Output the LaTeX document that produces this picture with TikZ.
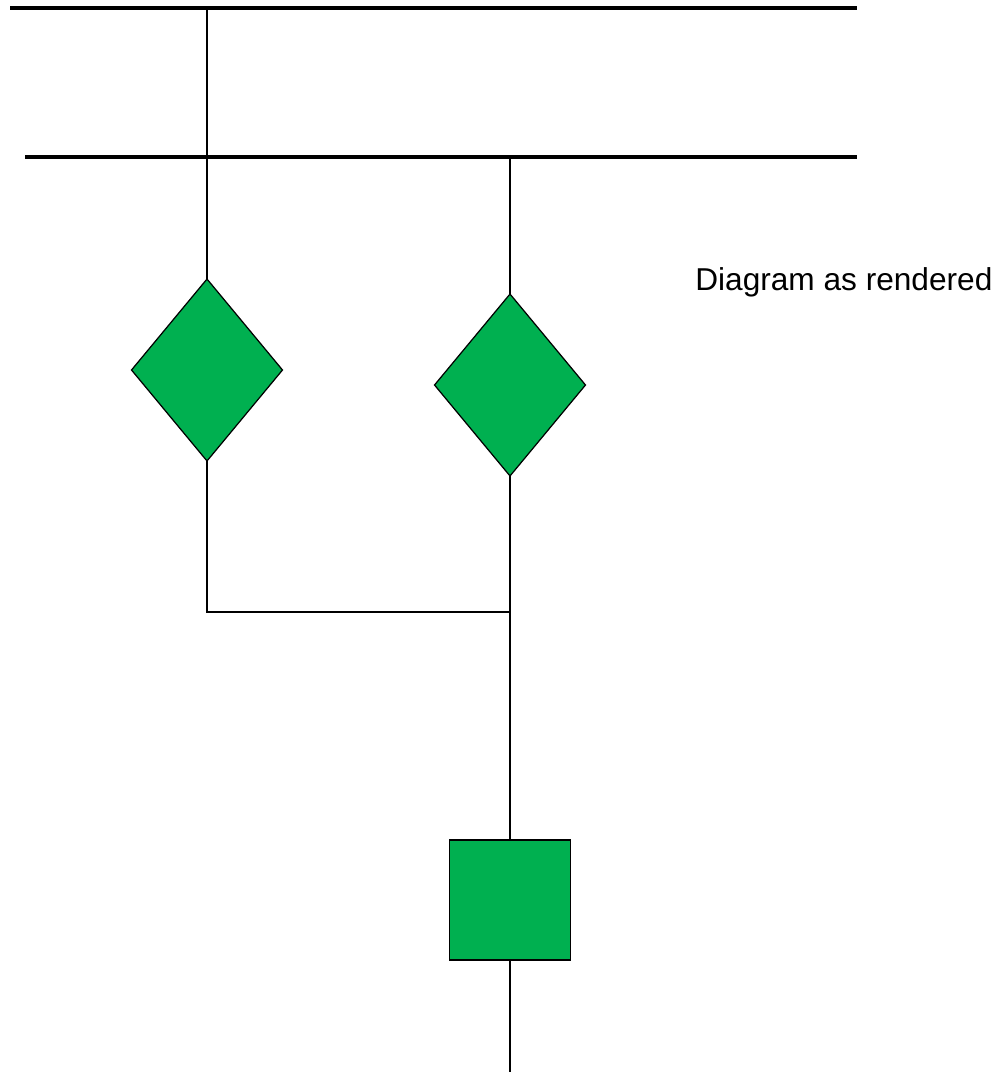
\documentclass[tikz,border=0pt]{standalone}
\usepackage{fontspec}
\setmainfont{Liberation Sans}
\usepackage{xcolor}
\usepackage{tikz}
\usetikzlibrary{shapes.geometric, positioning}
\definecolor{valvegreen}{HTML}{00B050}

\begin{document}
\begin{tikzpicture}[x=0.02cm, y=-0.02cm,
        bus/.style={line width=2.3pt},
        wire/.style={line width=1.1pt},
        valve/.style={diamond, draw, fill=valvegreen, line width=0.7pt, inner sep=0pt, outer sep=0pt, minimum width=3.02cm, minimum height=3.64cm},
        breaker/.style={rectangle, draw, fill=valvegreen, line width=1.1pt, inner sep=0pt, outer sep=0pt, minimum width=2.42cm, minimum height=2.4cm}]
                \useasboundingbox (0,0) rectangle (1001,1072);
                \coordinate (b1l) at (10, 8);
                \coordinate (b1r) at (857, 8);
                \coordinate (b2l) at (25, 157);
                \coordinate (b2r) at (857, 157);
                \coordinate (t1) at (207, 8);
                \coordinate (t2) at (510, 157);
                \coordinate (c1) at (207, 612);
                \coordinate (j1) at (510, 612);
                \coordinate (e1) at (510, 1072);
                \node[valve] (v1) at (207, 370) {};
                \node[valve] (v2) at (510, 385) {};
                \node[breaker] (k1) at (510, 900) {};
                \node[anchor=base west, font=\fontsize{18}{22}\selectfont, inner sep=0pt] (cap) at (695, 290) {Diagram as rendered};

                \draw[bus] (b1l) -- (b1r);
                \draw[bus] (b2l) -- (b2r);
                \draw[wire] (t1) -- (v1.north);
                \draw[wire] (v1.south) -- (c1) -- (j1);
                \draw[wire] (t2) -- (v2.north);
                \draw[wire] (v2.south) -- (k1.north);
                \draw[wire] (k1.south) -- (e1);
            \end{tikzpicture}
\end{document}
